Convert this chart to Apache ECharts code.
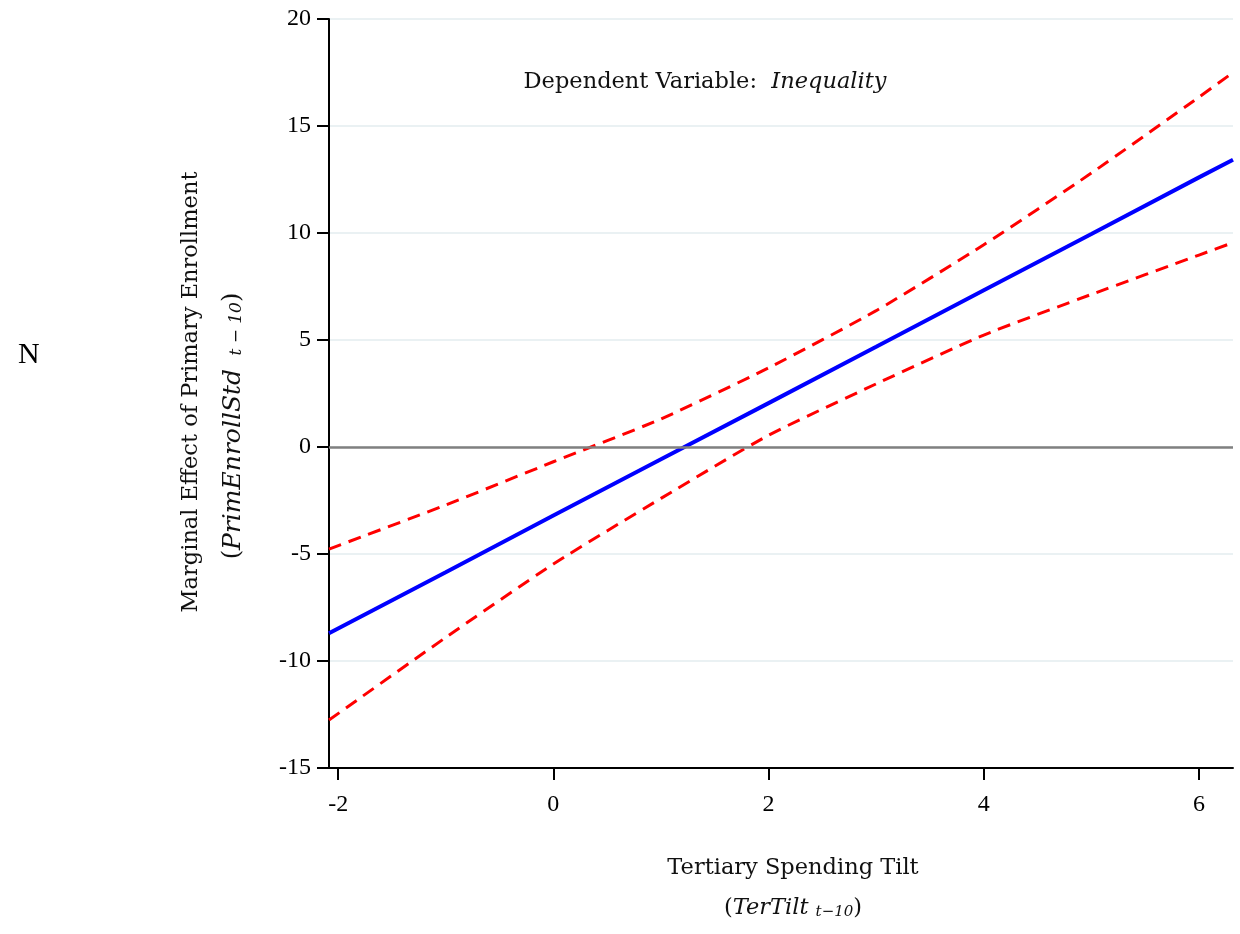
<!DOCTYPE html>
<html>
<head>
<meta charset="utf-8">
<script src="https://cdn.jsdelivr.net/npm/echarts@6/dist/echarts.min.js"></script>
<style>
  html, body { margin: 0; padding: 0; background: #fff; }
  #chart { width: 1240px; height: 934px; }
</style>
</head>
<body>
<div id="chart"></div>
<script>
// values
const tilt = [-2.085, -1, 0, 1, 2, 3, 4, 5, 6, 6.316];
const effect = [-8.7, -5.85, -3.2, -0.57, 2.05, 4.68, 7.32, 9.95, 12.6, 13.42];
const upper = [-4.77, -2.71, -0.69, 1.31, 3.7, 6.37, 9.45, 12.8, 16.35, 17.5];
const lower = [-12.76, -8.9, -5.47, -2.4, 0.55, 2.95, 5.23, 7.13, 8.97, 9.55];
const xTicks = [-2, 0, 2, 4, 6];

const serif = 'Liberation Serif';
const titleFont = 'DejaVu Serif';
const titleSize = 22.5;

function pairs(ys) {
  return tilt.map((x, i) => [x, ys[i]]);
}

const chart = echarts.init(document.getElementById('chart'));

const option = {
  animation: false,
  backgroundColor: '#fff',
  grid: { left: 329, right: 7, top: 19, bottom: 166 },
  xAxis: {
    type: 'value',
    min: -2.085,
    max: 6.316,
    axisLine: { show: true, onZero: false, lineStyle: { color: '#000', width: 2 } },
    axisTick: { show: true, customValues: xTicks, length: 12, lineStyle: { color: '#000', width: 2 } },
    axisLabel: { customValues: xTicks, margin: 25, color: '#000', fontFamily: serif, fontSize: 24 },
    splitLine: { show: false }
  },
  yAxis: {
    type: 'value',
    min: -15,
    max: 20,
    interval: 5,
    axisLine: { show: true, onZero: false, lineStyle: { color: '#000', width: 2 } },
    axisTick: { show: true, length: 12, lineStyle: { color: '#000', width: 2 } },
    axisLabel: { margin: 18, color: '#000', fontFamily: serif, fontSize: 24 },
    splitLine: { show: true, lineStyle: { color: '#eaf1f3', width: 2 } }
  },
  series: [
    {
      name: 'upper',
      type: 'line',
      data: pairs(upper),
      showSymbol: false,
      smooth: 0.2,
      lineStyle: { color: '#ff0000', width: 3, type: [13, 8] },
      markLine: {
        silent: true,
        symbol: 'none',
        label: { show: false },
        lineStyle: { color: '#808080', width: 2.5, type: 'solid' },
        data: [{ yAxis: 0 }]
      }
    },
    {
      name: 'lower',
      type: 'line',
      data: pairs(lower),
      showSymbol: false,
      smooth: 0.2,
      lineStyle: { color: '#ff0000', width: 3, type: [13, 8] }
    },
    {
      name: 'effect',
      type: 'line',
      data: pairs(effect),
      showSymbol: false,
      lineStyle: { color: '#0000ff', width: 4 }
    }
  ],
  graphic: [
    {
      type: 'text',
      x: 705,
      y: 82,
      style: {
        text: '{n|Dependent Variable:  }{i|Inequality}',
        align: 'center',
        verticalAlign: 'middle',
        rich: {
          n: { fontFamily: titleFont, fontSize: titleSize, fill: '#111' },
          i: { fontFamily: titleFont, fontSize: titleSize, fontStyle: 'italic', fill: '#111' }
        }
      }
    },
    {
      type: 'text',
      x: 191,
      y: 392,
      rotation: Math.PI / 2,
      style: {
        text: 'Marginal Effect of Primary Enrollment',
        fontFamily: titleFont,
        fontSize: titleSize,
        fill: '#111',
        align: 'center',
        verticalAlign: 'middle'
      }
    },
    {
      type: 'text',
      x: 233,
      y: 426,
      rotation: Math.PI / 2,
      style: {
        text: '{n|(}{i|PrimEnrollStd }{s| t − 10}{n|)}',
        align: 'center',
        verticalAlign: 'middle',
        rich: {
          n: { fontFamily: titleFont, fontSize: 24, fill: '#111' },
          i: { fontFamily: titleFont, fontSize: 25, fontStyle: 'italic', fill: '#111' },
          s: { fontFamily: titleFont, fontSize: 17, fontStyle: 'italic', fill: '#111', verticalAlign: 'bottom' }
        }
      }
    },
    {
      type: 'text',
      x: 793,
      y: 868,
      style: {
        text: 'Tertiary Spending Tilt',
        fontFamily: titleFont,
        fontSize: titleSize,
        fill: '#111',
        align: 'center',
        verticalAlign: 'middle'
      }
    },
    {
      type: 'text',
      x: 793,
      y: 908,
      style: {
        text: '{n|(}{i|TerTilt }{s|t−10}{n|)}',
        align: 'center',
        verticalAlign: 'middle',
        rich: {
          n: { fontFamily: titleFont, fontSize: titleSize, fill: '#111' },
          i: { fontFamily: titleFont, fontSize: titleSize, fontStyle: 'italic', fill: '#111' },
          s: { fontFamily: titleFont, fontSize: 15, fontStyle: 'italic', fill: '#111', verticalAlign: 'bottom' }
        }
      }
    },
    {
      type: 'text',
      left: 18,
      top: 340,
      style: { text: 'N', fontFamily: serif, fontSize: 30, fill: '#000' }
    }
  ]
};

chart.setOption(option);
</script>
</body>
</html>
